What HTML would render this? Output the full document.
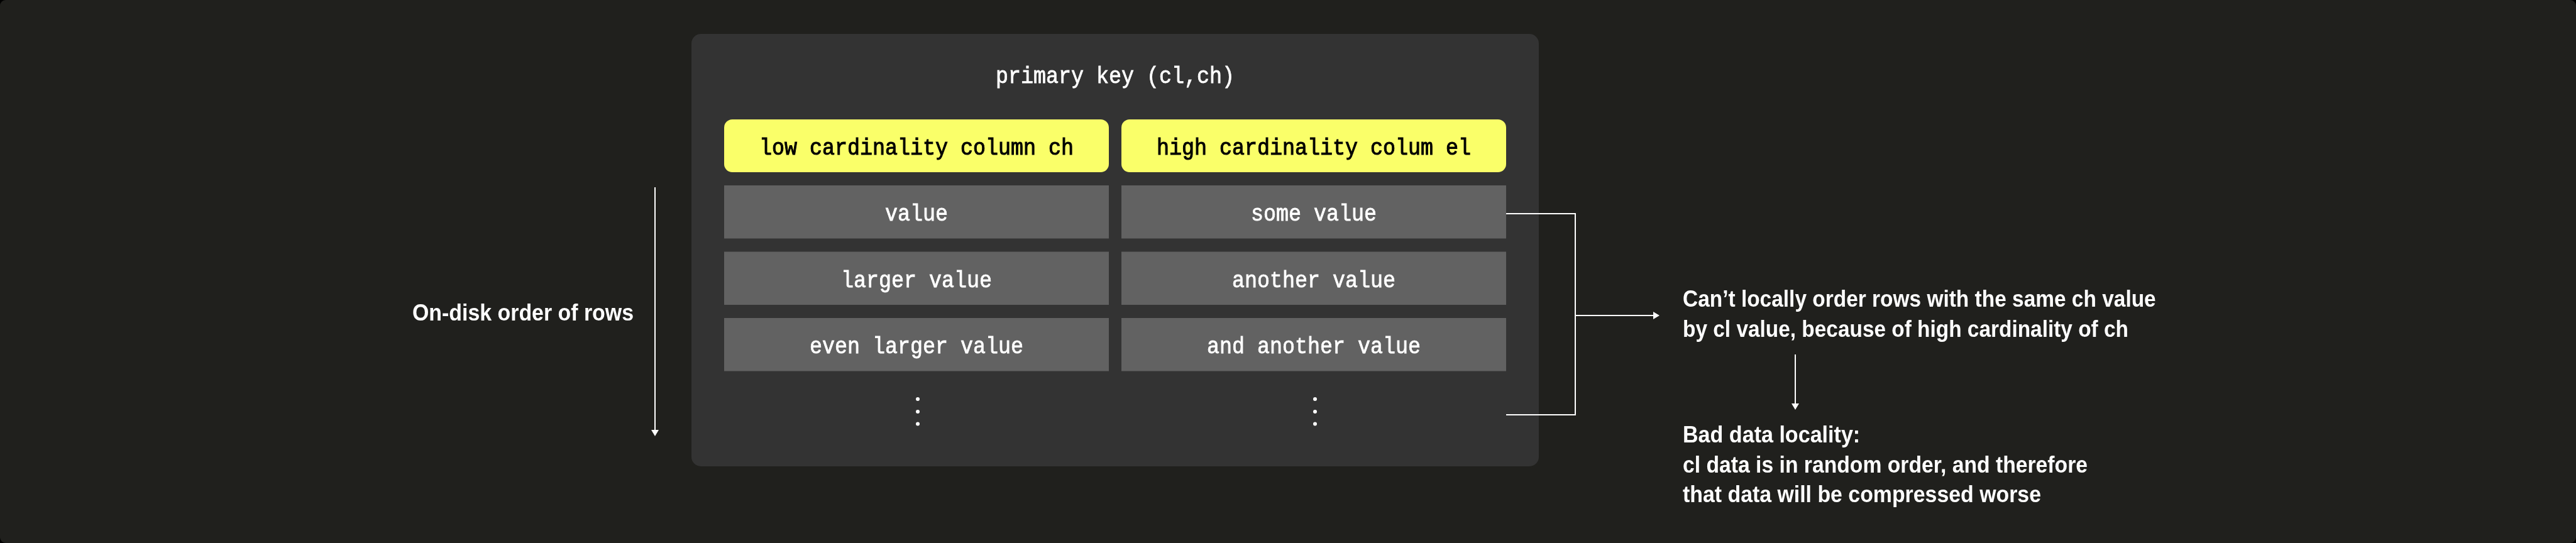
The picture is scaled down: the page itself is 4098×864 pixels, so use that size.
<!DOCTYPE html>
<html><head><meta charset="utf-8">
<style>
html,body{margin:0;padding:0;background:#000;width:4098px;height:864px;overflow:hidden}
svg{display:block;will-change:transform}
.mono{font-family:"Liberation Mono",monospace}
.sans{font-family:"Liberation Sans",sans-serif;font-weight:bold}
</style></head><body>
<svg width="4098" height="864" viewBox="0 0 4098 864">
<rect x="0" y="0" width="4098" height="864" rx="9" fill="#20201d"/>
<!-- panel -->
<rect x="1100" y="54" width="1348" height="688" rx="15" fill="#333333"/>
<text class="mono" x="1774" y="132" font-size="37.5" fill="#fff" text-anchor="middle" stroke="#fff" stroke-width="0.8" textLength="380" lengthAdjust="spacingAndGlyphs">primary key (cl,ch)</text>
<!-- yellow headers -->
<rect x="1152" y="190" width="612" height="84" rx="13" fill="#faff69"/>
<rect x="1784" y="190" width="612" height="84" rx="13" fill="#faff69"/>
<text class="mono" x="1458" y="246" font-size="37.5" fill="#000" text-anchor="middle" stroke="#000" stroke-width="1.1" textLength="500" lengthAdjust="spacingAndGlyphs">low cardinality column ch</text>
<text class="mono" x="2090" y="246" font-size="37.5" fill="#000" text-anchor="middle" stroke="#000" stroke-width="1.1" textLength="500" lengthAdjust="spacingAndGlyphs">high cardinality colum el</text>
<!-- rows -->
<rect x="1152" y="295" width="612" height="84.5" fill="#626262"/>
<rect x="1784" y="295" width="612" height="84.5" fill="#626262"/>
<rect x="1152" y="400.5" width="612" height="84.5" fill="#626262"/>
<rect x="1784" y="400.5" width="612" height="84.5" fill="#626262"/>
<rect x="1152" y="506" width="612" height="84.5" fill="#626262"/>
<rect x="1784" y="506" width="612" height="84.5" fill="#626262"/>
<text class="mono" x="1458" y="351" font-size="37.5" fill="#fff" text-anchor="middle" stroke="#fff" stroke-width="0.8" textLength="100" lengthAdjust="spacingAndGlyphs">value</text>
<text class="mono" x="2090" y="351" font-size="37.5" fill="#fff" text-anchor="middle" stroke="#fff" stroke-width="0.8" textLength="200" lengthAdjust="spacingAndGlyphs">some value</text>
<text class="mono" x="1458" y="457" font-size="37.5" fill="#fff" text-anchor="middle" stroke="#fff" stroke-width="0.8" textLength="240" lengthAdjust="spacingAndGlyphs">larger value</text>
<text class="mono" x="2090" y="457" font-size="37.5" fill="#fff" text-anchor="middle" stroke="#fff" stroke-width="0.8" textLength="260" lengthAdjust="spacingAndGlyphs">another value</text>
<text class="mono" x="1458" y="562" font-size="37.5" fill="#fff" text-anchor="middle" stroke="#fff" stroke-width="0.8" textLength="340" lengthAdjust="spacingAndGlyphs">even larger value</text>
<text class="mono" x="2090" y="562" font-size="37.5" fill="#fff" text-anchor="middle" stroke="#fff" stroke-width="0.8" textLength="340" lengthAdjust="spacingAndGlyphs">and another value</text>
<!-- dots -->
<g fill="#fff">
<circle cx="1460" cy="635" r="3"/><circle cx="1460" cy="655" r="3"/><circle cx="1460" cy="674.5" r="3"/>
<circle cx="2092" cy="635" r="3"/><circle cx="2092" cy="655" r="3"/><circle cx="2092" cy="674.5" r="3"/>
</g>
<!-- left arrow -->
<rect x="1041" y="298" width="2" height="388" fill="#fff"/>
<path d="M1036 684 L1048 684 L1042 694 Z" fill="#fff"/>
<text class="sans" x="656" y="510" font-size="36" fill="#fff" textLength="352" lengthAdjust="spacingAndGlyphs">On-disk order of rows</text>
<!-- bracket -->
<g stroke="#fff" stroke-width="2" fill="none">
<path d="M2396 340 H2506 V660 H2396"/>
<path d="M2506 502 H2632"/>
</g>
<path d="M2630 496 L2640 502 L2630 508 Z" fill="#fff"/>
<!-- right texts -->
<text class="sans" x="2677" y="488" font-size="36" fill="#fff" textLength="752.7" lengthAdjust="spacingAndGlyphs">Can’t locally order rows with the same ch value</text>
<text class="sans" x="2677" y="535.5" font-size="36" fill="#fff" textLength="709" lengthAdjust="spacingAndGlyphs">by cl value, because of high cardinality of ch</text>
<rect x="2855" y="564" width="2" height="80" fill="#fff"/>
<path d="M2850 642 L2862 642 L2856 652 Z" fill="#fff"/>
<text class="sans" x="2677" y="704" font-size="36" fill="#fff" textLength="282.2" lengthAdjust="spacingAndGlyphs">Bad data locality:</text>
<text class="sans" x="2677" y="751.5" font-size="36" fill="#fff" textLength="644" lengthAdjust="spacingAndGlyphs">cl data is in random order, and therefore</text>
<text class="sans" x="2677" y="799" font-size="36" fill="#fff" textLength="570" lengthAdjust="spacingAndGlyphs">that data will be compressed worse</text>
</svg>
</body></html>
